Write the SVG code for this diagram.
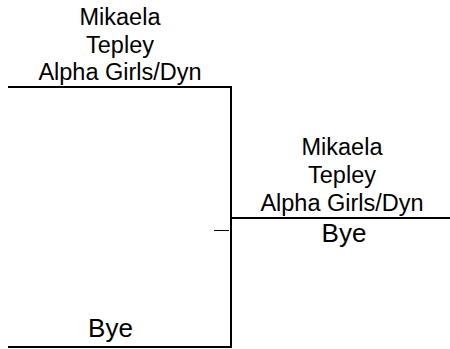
<svg xmlns="http://www.w3.org/2000/svg" width="450" height="349" viewBox="0 0 450 349">
<style>
.t{font-family:"Liberation Sans",Arial,sans-serif;font-size:23.5px;fill:#000;text-anchor:middle}
.b{font-family:"Liberation Sans",Arial,sans-serif;font-size:26px;fill:#000;text-anchor:middle}
.l{stroke:#000;stroke-width:2;fill:none}
</style>
<rect width="450" height="349" fill="#fff"/>
<g id="connectors">
<path class="l" d="M8 87H231V347H8"/>
<path class="l" d="M231 218H450"/>
<path d="M214 230.5H229" stroke="#000" stroke-width="1"/>
</g>
<g id="node-top">
<text class="t" x="120" y="25">Mikaela</text>
<text class="t" x="120" y="52.5">Tepley</text>
<text class="t" x="120" y="80">Alpha Girls/Dyn</text>
</g>
<g id="node-right">
<text class="t" x="342" y="155">Mikaela</text>
<text class="t" x="342" y="183">Tepley</text>
<text class="t" x="342" y="210.5">Alpha Girls/Dyn</text>
<text class="b" x="344" y="241.5">Bye</text>
</g>
<g id="node-bottom">
<text class="b" x="110.5" y="337.3">Bye</text>
</g>
</svg>
